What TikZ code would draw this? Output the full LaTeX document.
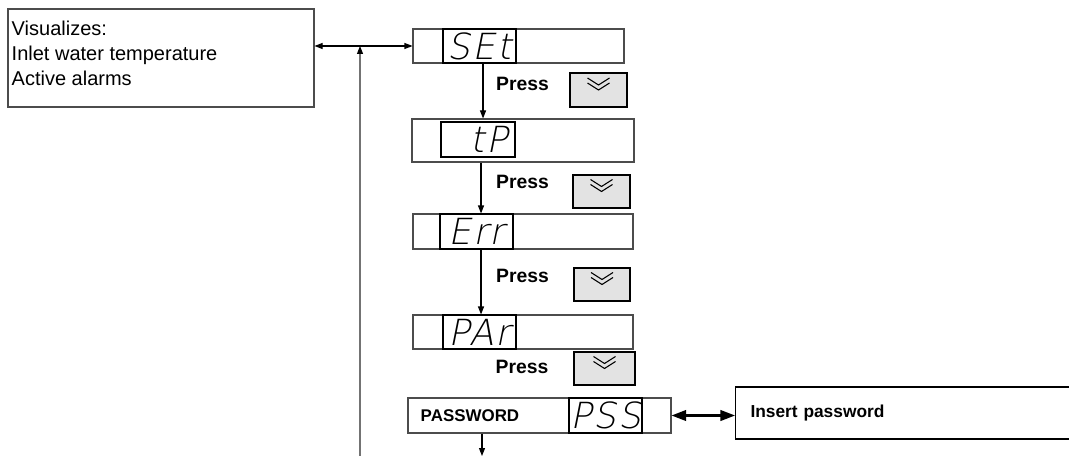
\documentclass[tikz,border=0pt]{standalone}
\usepackage{fontspec}
\setmainfont{Liberation Sans}
\newfontfamily\segfont{DejaVuSans-ExtraLight.ttf}[FakeSlant=0.2, LetterSpace=5]
\usetikzlibrary{arrows.meta,positioning}
\def\px{0.75pt}

\begin{document}
\begin{tikzpicture}[
    x=\px, y=-\px,
    box/.style={draw=black!70, line width=0.8pt, rectangle, inner sep=0pt},
    disp/.style={box, draw=black, minimum width=73*\px, font=\segfont\fontsize{27}{27}\selectfont},
    btn/.style={draw=black, line width=1.1pt, fill=black!11, minimum width=57*\px, minimum height=34*\px},
    press/.style={font=\bfseries\fontsize{14.5}{17}\selectfont, inner sep=0pt},
    chev/.style={line width=0.8pt},
    arrow/.style={-{Triangle[length=6pt,width=4.5pt]}, line width=0.8pt},
    dblarrow/.style={{Triangle[length=6pt,width=4.5pt]}-{Triangle[length=6pt,width=4.5pt]}, line width=0.8pt},
    thickarrow/.style={{Triangle[length=11pt,width=8pt]}-{Triangle[length=11pt,width=8pt]}, line width=1.6pt}
    ]
    \useasboundingbox (0,0) rectangle (1069,456);

    \node (vis) [box, minimum width=306*\px, minimum height=98*\px] at (161,58) {};
    \node (vistext) [anchor=north west, align=left, inner sep=0pt, font=\fontsize{15}{18.75}\selectfont]
        at ([shift={(4,12)}]vis.north west) {Visualizes:\\Inlet water temperature\\Active alarms};

    % display rows
    \node (set) [box, minimum width=211*\px, minimum height=34*\px] at (518.5,46) {};
    \node (setd) [disp, minimum height=34*\px] at (479.5,46) {SEt};

    \node (tp) [box, minimum width=222*\px, minimum height=43*\px] at (523,140.5) {};
    \node (tpd) [disp, minimum width=74*\px, minimum height=35*\px] at (478,139.5) {\phantom{S}tP};

    \node (err) [box, minimum width=220*\px, minimum height=35*\px] at (523,231.5) {};
    \node (errd) [disp, minimum height=35*\px] at (476.5,231.5) {Err};

    \node (par) [box, minimum width=220*\px, minimum height=34*\px] at (523,332) {};
    \node (pard) [disp, minimum height=34*\px] at (479.5,332) {PAr};

    \node (pw) [box, minimum width=263*\px, minimum height=35*\px] at (539.5,415.5) {};
    \node (pwlabel) [anchor=west, inner sep=0pt, font=\bfseries\fontsize{12.7}{15}\selectfont]
        at ([xshift=13*\px]pw.west) {PASSWORD};
    \node (pwd) [disp, minimum height=35*\px] at (605.5,415.5) {PSS};

    \node (ins) [box, draw=black, anchor=west, inner xsep=11.25pt, text width=247.5pt, align=left,
        minimum height=52*\px, font=\bfseries\fontsize{13}{15}\selectfont] at (735,413) {Insert password};

    % buttons
    \node (b1) [btn] at (598.5,90) {};
    \node (b2) [btn, minimum height=33*\px] at (601.5,191.5) {};
    \node (b3) [btn, minimum width=56*\px, minimum height=33*\px] at (602,284.5) {};
    \node (b4) [btn, minimum width=61*\px, minimum height=33*\px] at (604.5,368.5) {};
    \foreach \b in {b1,b2,b3,b4} {
        \draw[chev] ([shift={(-11,-12)}]\b.center) -- ++(11,7) -- ++(11,-7);
        \draw[chev] ([shift={(-11,-7)}]\b.center) -- ++(11,7) -- ++(11,-7);
    }

    \node (p1) [press] at (522.5,84) {Press};
    \node (p2) [press] at (522.5,182) {Press};
    \node (p3) [press] at (522.5,276) {Press};
    \node (p4) [press] at (522,367) {Press};

    % connectors
    \draw[arrow] ([xshift=3.5*\px]setd.south) -- ([xshift=3.5*\px]setd.south |- tp.north);
    \draw[arrow] ([xshift=3*\px]tpd.south |- tp.south) -- ([xshift=3*\px]tpd.south |- err.north);
    \draw[arrow] ([xshift=4.5*\px]errd.south) -- ([xshift=4.5*\px]errd.south |- par.north);

    \coordinate (pwout) at (482,456);
    \draw[arrow] (pw.south -| pwout) -- (pwout);

    \coordinate (loopin) at (360,456);
    \draw[arrow, draw=black!55, -{Triangle[length=6pt,width=4.5pt,color=black]}] (loopin) -- (loopin |- set.west);

    \draw[dblarrow] (vis.east |- set.west) -- (set.west);
    \draw[thickarrow] (pw.east) -- (pw.east -| ins.west);
\end{tikzpicture}
\end{document}
